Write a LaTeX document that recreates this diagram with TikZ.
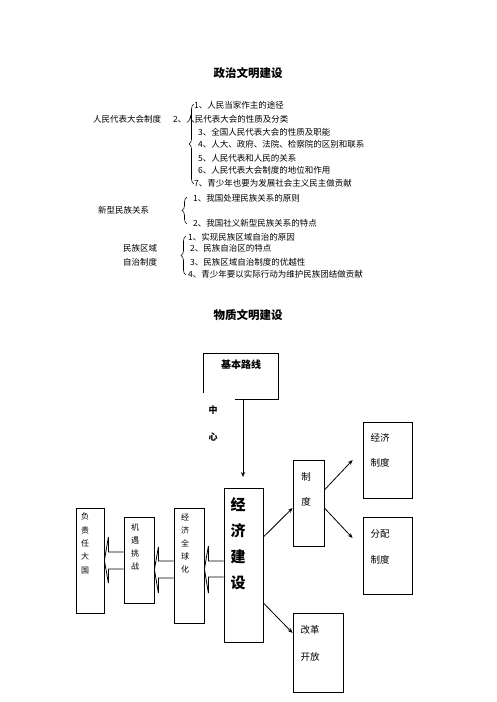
\documentclass[tikz,border=0pt]{standalone}
\usepackage{fontspec}
\setmainfont{Noto Sans CJK SC}
\usetikzlibrary{decorations.pathreplacing,arrows.meta,calc}
\begin{document}
\begin{tikzpicture}[x=1pt,y=-1pt,
  txt/.style={anchor=west,inner sep=0,font=\fontsize{8.5}{10}\selectfont},
  ttl/.style={inner sep=0,font=\fontsize{11.5}{13}\selectfont\bfseries},
  bx/.style={draw,line width=0.8pt,inner sep=0},
  col/.style={inner sep=0,align=center,font=\fontsize{8}{13.3}\selectfont},
  lbl/.style={inner sep=0,align=center,font=\fontsize{9.5}{25.5}\selectfont},
  arr/.style={line width=0.8pt,-{Stealth[length=5pt,width=4pt]}},
  brc/.style={decorate,decoration={brace,amplitude=5pt},line width=0.6pt},
  blk/.style={line width=0.8pt}]
\useasboundingbox (0,0) rectangle (496,702);

% ---------- top section ----------
\node[ttl] (t1) at (248,73) {政治文明建设};

\node[txt] (a0) at (93,119) {人民代表大会制度};
\node[txt] (a1) at (194,105) {1、人民当家作主的途径};
\node[txt] (a2) at (173,119) {2、人民代表大会的性质及分类};
\node[txt] (a3) at (198,132) {3、全国人民代表大会的性质及职能};
\node[txt] (a4) at (198,144) {4、人大、政府、法院、检察院的区别和联系};
\node[txt] (a5) at (198,158) {5、人民代表和人民的关系};
\node[txt] (a6) at (198,170) {6、人民代表大会制度的地位和作用};
\node[txt] (a7) at (194,183) {7、青少年也要为发展社会主义民主做贡献};
\draw[brc] (194,184) -- (194,104);

\node[txt] (b0) at (98,210) {新型民族关系};
\node[txt] (b1) at (193,198) {1、我国处理民族关系的原则};
\node[txt] (b2) at (193,223) {2、我国社义新型民族关系的特点};
\draw[brc] (187,224) -- (187,197);

\node[txt] (c0) at (123,248) {民族区域};
\node[txt] (c0b) at (123,262) {自治制度};
\node[txt] (c1) at (188,237) {1、实现民族区域自治的原因};
\node[txt] (c2) at (190,248) {2、民族自治区的特点};
\node[txt] (c3) at (190,262) {3、民族区域自治制度的优越性};
\node[txt] (c4) at (188,274) {4、青少年要以实际行动为维护民族团结做贡献};
\draw[brc] (186,275) -- (186,236);

% ---------- bottom section ----------
\node[ttl] (t2) at (248,315) {物质文明建设};

\node[inner sep=0,minimum width=74pt,minimum height=45pt] (jb) at (241,376.5) {};
\draw[line width=0.8pt] ([yshift=6pt]jb.south west) -- (jb.north west) -- (jb.north east) -- (jb.south east) -- ([xshift=31pt]jb.south west);
\node[inner sep=0,font=\fontsize{10}{12}\selectfont\bfseries] (jbt) at (241,365) {基本路线};
\node[inner sep=0,font=\fontsize{9}{11}\selectfont\bfseries] (zx1) at (213,410) {中};
\node[inner sep=0,font=\fontsize{9}{11}\selectfont\bfseries] (zx2) at (213,437) {心};

\node[bx,minimum width=28pt,minimum height=105pt] (fz) at (90,560.5) {};
\node[bx,minimum width=30pt,minimum height=86pt] (jy) at (139,560) {};
\node[bx,minimum width=30pt,minimum height=115pt] (qqh) at (189,565.5) {};
\node[bx,minimum width=39pt,minimum height=154pt] (jj) at (243.5,565) {};
\node[bx,minimum width=31pt,minimum height=86pt] (zd) at (308.5,503) {};
\node[bx,minimum width=49pt,minimum height=76pt] (jjzd) at (387.5,460) {};
\node[bx,minimum width=49pt,minimum height=77pt] (fp) at (387.5,555.5) {};
\node[bx,minimum width=50pt,minimum height=79pt] (gg) at (318,652.5) {};

\node[col] (fzt) at (85,543.5) {负\\责\\任\\大\\国};
\node[col] (jyt) at (135,547) {机\\遇\\挑\\战};
\node[col,font=\fontsize{8}{13}\selectfont] (qqht) at (185,543) {经\\济\\全\\球\\化};
\node[inner sep=0,align=center,font=\fontsize{15}{26}\selectfont\bfseries] (jjt) at (238,544) {经\\济\\建\\设};
\node[lbl] (zdt) at (306,489.5) {制\\度};
\node[lbl] (jjzdt) at (380,450.5) {经济\\制度};
\node[lbl] (fpt) at (380,547) {分配\\制度};
\node[lbl,font=\fontsize{9.5}{27}\selectfont] (ggt) at (310,643.5) {改革\\开放};

% arrows
\coordinate (zx) at (243,477);
\draw[arr] ([xshift=2pt]jb.south) -- (zx);
\draw[arr] ([yshift=28pt]jj.east) -- ([yshift=-5pt]zd.west);
\coordinate (e1) at ([xshift=-10pt]jjzd.west);
\coordinate (e2) at ([xshift=-10pt,yshift=17.5pt]fp.west);
\draw[arr] ([yshift=13pt]zd.east) -- (e1);
\draw[arr] ([yshift=-5pt]zd.east) -- (e2);
\draw[arr] ([yshift=-38pt]jj.east) -- ([yshift=19.5pt]gg.west);

% block arrows
\draw[blk] ([yshift=4pt]jj.west) -- ([xshift=4pt,yshift=4.5pt]qqh.east) -- ([xshift=4pt,yshift=19.5pt]qqh.east) -- ([yshift=-3.5pt]qqh.east) -- ([xshift=4pt,yshift=-27.5pt]qqh.east) -- ([xshift=4pt,yshift=-11.5pt]qqh.east) -- ([yshift=-12pt]jj.west);
\draw[blk] ([yshift=4.5pt]qqh.west) -- ([xshift=4pt,yshift=-1pt]jy.east) -- ([xshift=4pt,yshift=13pt]jy.east) -- ([yshift=-9.5pt]jy.east) -- ([xshift=4pt,yshift=-33pt]jy.east) -- ([xshift=4pt,yshift=-18pt]jy.east) -- ([yshift=-12.5pt]qqh.west);
\draw[blk] ([yshift=8pt]jy.west) -- ([xshift=4pt,yshift=8.5pt]fz.east) -- ([xshift=4pt,yshift=23.5pt]fz.east) -- (fz.east) -- ([xshift=4pt,yshift=-22.5pt]fz.east) -- ([xshift=4pt,yshift=-8.5pt]fz.east) -- ([yshift=-9pt]jy.west);
\end{tikzpicture}
\end{document}
